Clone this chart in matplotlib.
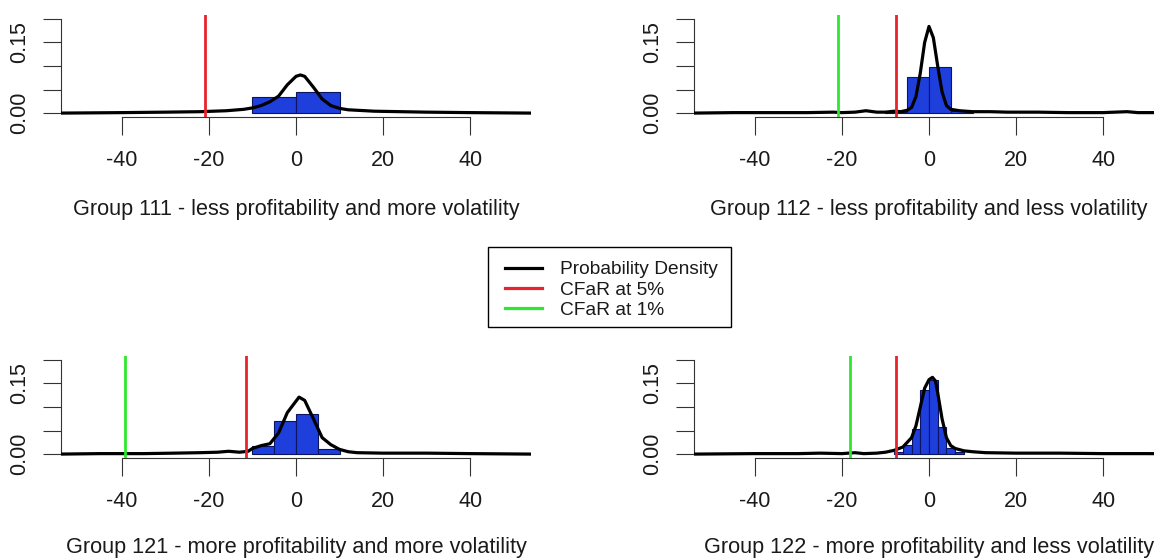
import matplotlib
matplotlib.use("Agg")
import matplotlib.pyplot as plt
from matplotlib.lines import Line2D
from matplotlib.patches import Rectangle

plt.rcParams["font.family"] = ["Liberation Sans", "DejaVu Sans"]

BLUE = "#1f3fdc"
RED = "#e8232b"
GREEN = "#2ee82e"
TXT = "#1a1a1a"

titles = [
    "Group 111 - less profitability and more volatility",
    "Group 112 - less profitability and less volatility",
    "Group 121 - more profitability and more volatility",
    "Group 122 - more profitability and less volatility",
]

# histogram bins (left edge, right edge, height) per group
bins_111 = [(-10, 0, 0.035), (0, 10, 0.045)]
bins_112 = [(-10, -5, 0.003), (-5, 0, 0.077), (0, 5, 0.098), (5, 10, 0.004)]
bins_121 = [(-10, -5, 0.018), (-5, 0, 0.070), (0, 5, 0.085), (5, 10, 0.011)]
bins_122 = [(-8, -6, 0.005), (-6, -4, 0.020), (-4, -2, 0.054), (-2, 0, 0.137),
            (0, 2, 0.158), (2, 4, 0.057), (4, 6, 0.012), (6, 8, 0.004)]

# density curves
dens_x_111 = [-54, -40, -30, -22, -16, -12, -10, -8, -6, -4, -2, 0, 1, 2, 4, 6, 8, 10, 12, 14, 18, 24, 30, 40, 54]
dens_y_111 = [0.000, 0.001, 0.002, 0.003, 0.005, 0.008, 0.011, 0.016, 0.024, 0.036, 0.060, 0.078, 0.081, 0.078, 0.055, 0.030, 0.016, 0.010, 0.007, 0.006, 0.004, 0.003, 0.002, 0.001, 0.000]

dens_x_112 = [-54, -45, -35, -28, -22, -20, -17, -14.5, -12, -10, -8, -6.5, -5, -4, -3, -2, -1, 0, 1, 2, 3, 4, 5, 7, 10, 14, 18, 25, 32, 40, 45.5, 48, 55, 70]
dens_y_112 = [0.000, 0.001, 0.001, 0.001, 0.002, 0.001, 0.002, 0.005, 0.002, 0.002, 0.004, 0.003, 0.006, 0.012, 0.035, 0.085, 0.150, 0.184, 0.160, 0.100, 0.045, 0.016, 0.008, 0.005, 0.003, 0.003, 0.002, 0.002, 0.001, 0.001, 0.003, 0.001, 0.001, 0.000]

dens_x_121 = [-54, -45, -40, -35, -28, -22, -18, -15.5, -13, -11, -10, -8, -6, -4, -2, 0.7, 2, 4, 6, 8, 10, 12, 14, 20, 30, 40, 54]
dens_y_121 = [0.000, 0.001, 0.001, 0.001, 0.002, 0.003, 0.004, 0.006, 0.004, 0.006, 0.012, 0.018, 0.022, 0.045, 0.088, 0.121, 0.114, 0.075, 0.035, 0.020, 0.010, 0.005, 0.003, 0.002, 0.002, 0.001, 0.000]

dens_x_122 = [-54, -40, -30, -25, -20, -17, -15, -12, -10, -8, -6, -4, -3, -2, -1, 0, 0.8, 1.5, 2, 3, 4, 5, 6, 8, 10, 13, 20, 30, 40, 50, 70]
dens_y_122 = [0.000, 0.001, 0.001, 0.002, 0.001, 0.003, 0.001, 0.002, 0.004, 0.008, 0.015, 0.035, 0.060, 0.100, 0.140, 0.158, 0.163, 0.155, 0.130, 0.075, 0.035, 0.018, 0.012, 0.007, 0.005, 0.003, 0.002, 0.002, 0.001, 0.001, 0.000]

cfar_5 = [-21.0, -7.5, -11.4, -7.5]
cfar_1 = [None, -21.0, -39.2, -18.2]

panels = [
    (bins_111, dens_x_111, dens_y_111),
    (bins_112, dens_x_112, dens_y_112),
    (bins_121, dens_x_121, dens_y_121),
    (bins_122, dens_x_122, dens_y_122),
]

W, H = 1154, 558
fig = plt.figure(figsize=(W / 100, H / 100), dpi=100)

# axes boxes in pixels: left, top, width, height
boxes = [(61, 15, 470, 102), (694, 15, 470, 102),
         (61, 356, 470, 102), (694, 356, 470, 102)]
title_y = [215, 215, 553, 553]

for i, (bins, dx, dy) in enumerate(panels):
    l, t, w, h = boxes[i]
    ax = fig.add_axes([l / W, 1 - (t + h) / H, w / W, h / H])
    ax.set_xlim(-54, 54)
    ax.set_ylim(-0.0083, 0.2083)
    ax.patch.set_alpha(0)

    for x0, x1, hgt in bins:
        ax.bar(x0, hgt, width=x1 - x0, align="edge", color=BLUE,
               edgecolor="#0a1460", linewidth=0.8, zorder=2)
    ax.plot(dx, dy, color="black", lw=2.3, zorder=3)
    ax.axvline(cfar_5[i], color=RED, lw=2.0, zorder=4)
    if cfar_1[i] is not None:
        ax.axvline(cfar_1[i], color=GREEN, lw=2.0, zorder=4)

    for s in ["top", "right"]:
        ax.spines[s].set_visible(False)
    ax.spines["left"].set_bounds(0, 0.2)
    ax.spines["bottom"].set_bounds(-40, 40)
    for s in ["left", "bottom"]:
        ax.spines[s].set_linewidth(0.8)
        ax.spines[s].set_color("#333333")

    ax.set_xticks([-40, -20, 0, 20, 40])
    ax.set_xticklabels(["-40", "-20", "0", "20", "40"])
    ax.set_yticks([0, 0.05, 0.10, 0.15, 0.20])
    ax.set_yticklabels(["0.00", "", "", "0.15", ""], rotation=90, va="center")
    ax.tick_params(axis="both", length=13, width=0.8, color="#333333",
                   labelsize=15.5, labelcolor=TXT)
    ax.tick_params(axis="x", pad=11)
    ax.tick_params(axis="y", pad=9)

    # subtitle centred on the plot region, below the axis
    x_center = fig.transFigure.inverted().transform(ax.transData.transform((0, 0)))[0]
    fig.text(x_center, 1 - title_y[i] / H, titles[i],
             ha="center", va="baseline", fontsize=15.6, color=TXT)

handles = [Line2D([], [], color="black", lw=2.3),
           Line2D([], [], color=RED, lw=2.3),
           Line2D([], [], color=GREEN, lw=2.3)]
leg = fig.legend(handles, ["Probability Density", "CFaR at 5%", "CFaR at 1%"],
                 loc="upper left", bbox_to_anchor=(505 / W, 1 - 261 / H),
                 borderaxespad=0, fontsize=13.8, frameon=False,
                 handlelength=1.93, handletextpad=0.95, labelspacing=0.15,
                 borderpad=0)
for txt in leg.get_texts():
    txt.set_color(TXT)

# legend box as drawn by R
fig.patches.append(Rectangle((488 / W, 1 - 327 / H), 243 / W, 80 / H,
                             transform=fig.transFigure, fill=False,
                             edgecolor="black", linewidth=1.0))

fig.savefig("out.png", dpi=100)
